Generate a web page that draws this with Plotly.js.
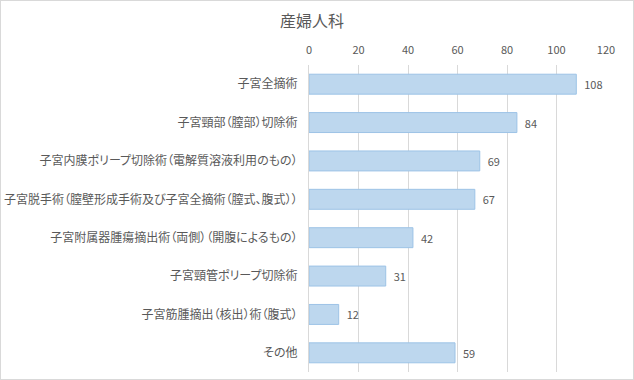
<!DOCTYPE html>
<html>
<head>
<meta charset="utf-8">
<script src="https://cdn.plot.ly/plotly-3.0.1.min.js"></script>
<style>
html,body{margin:0;padding:0;background:#fff;}
#wrap{width:634px;height:380px;box-sizing:border-box;border:1px solid #d9d9d9;overflow:hidden;}
#chart{width:632px;height:378px;}
#chart .ytick text{font-feature-settings:"palt" 1;}
</style>
</head>
<body>
<div id="wrap"><div id="chart"></div></div>
<script>
const categories = [
  "子宮全摘術",
  "子宮頸部（膣部）切除術",
  "子宮内膜ポリープ切除術（電解質溶液利用のもの）",
  "子宮脱手術（膣壁形成手術及び子宮全摘術（膣式、腹式））",
  "子宮附属器腫瘍摘出術（両側）（開腹によるもの）",
  "子宮頸管ポリープ切除術",
  "子宮筋腫摘出（核出）術（腹式）",
  "その他"
];
const counts = [108, 84, 69, 67, 42, 31, 12, 59];
const xTicks = [0, 20, 40, 60, 80, 100, 120];

const font = "'Noto Sans CJK JP', 'Noto Sans', sans-serif";
const trace = {
  type: 'bar',
  orientation: 'h',
  y: categories,
  x: counts,
  width: 0.52,
  marker: {color: '#bdd7ee', line: {color: '#9dc3e6', width: 1}},
  text: counts.map(v => '  ' + v),
  textposition: 'outside',
  textfont: {family: font, size: 11, color: '#595959'},
  cliponaxis: false,
  hoverinfo: 'none'
};
const layout = {
  width: 632, height: 378,
  margin: {l: 308, r: 27, t: 64, b: 7},
  paper_bgcolor: '#ffffff', plot_bgcolor: '#ffffff',
  font: {family: font, color: '#595959', size: 11},
  title: {text: '産婦人科', x: 0.492, xanchor: 'center', xref: 'container', yref: 'container', y: 0.945, yanchor: 'middle', font: {family: font, size: 16, color: '#595959'}},
  showlegend: false,
  xaxis: {
    side: 'top', range: [0, 120], tickvals: xTicks, ticktext: xTicks.map(String),
    showgrid: true, gridcolor: '#d9d9d9', gridwidth: 1,
    zeroline: false, showline: false, ticks: '', ticklabelstandoff: 8,
    tickfont: {family: font, size: 11, color: '#595959'}, fixedrange: true
  },
  yaxis: {
    autorange: 'reversed', type: 'category',
    showline: true, linecolor: '#d9d9d9', linewidth: 1,
    showgrid: false, zeroline: false, ticks: '', ticklabelstandoff: 8,
    tickfont: {family: font, size: 12, color: '#595959'}, fixedrange: true
  }
};
Plotly.newPlot('chart', [trace], layout, {displayModeBar: false, staticPlot: true});
</script>
</body>
</html>
